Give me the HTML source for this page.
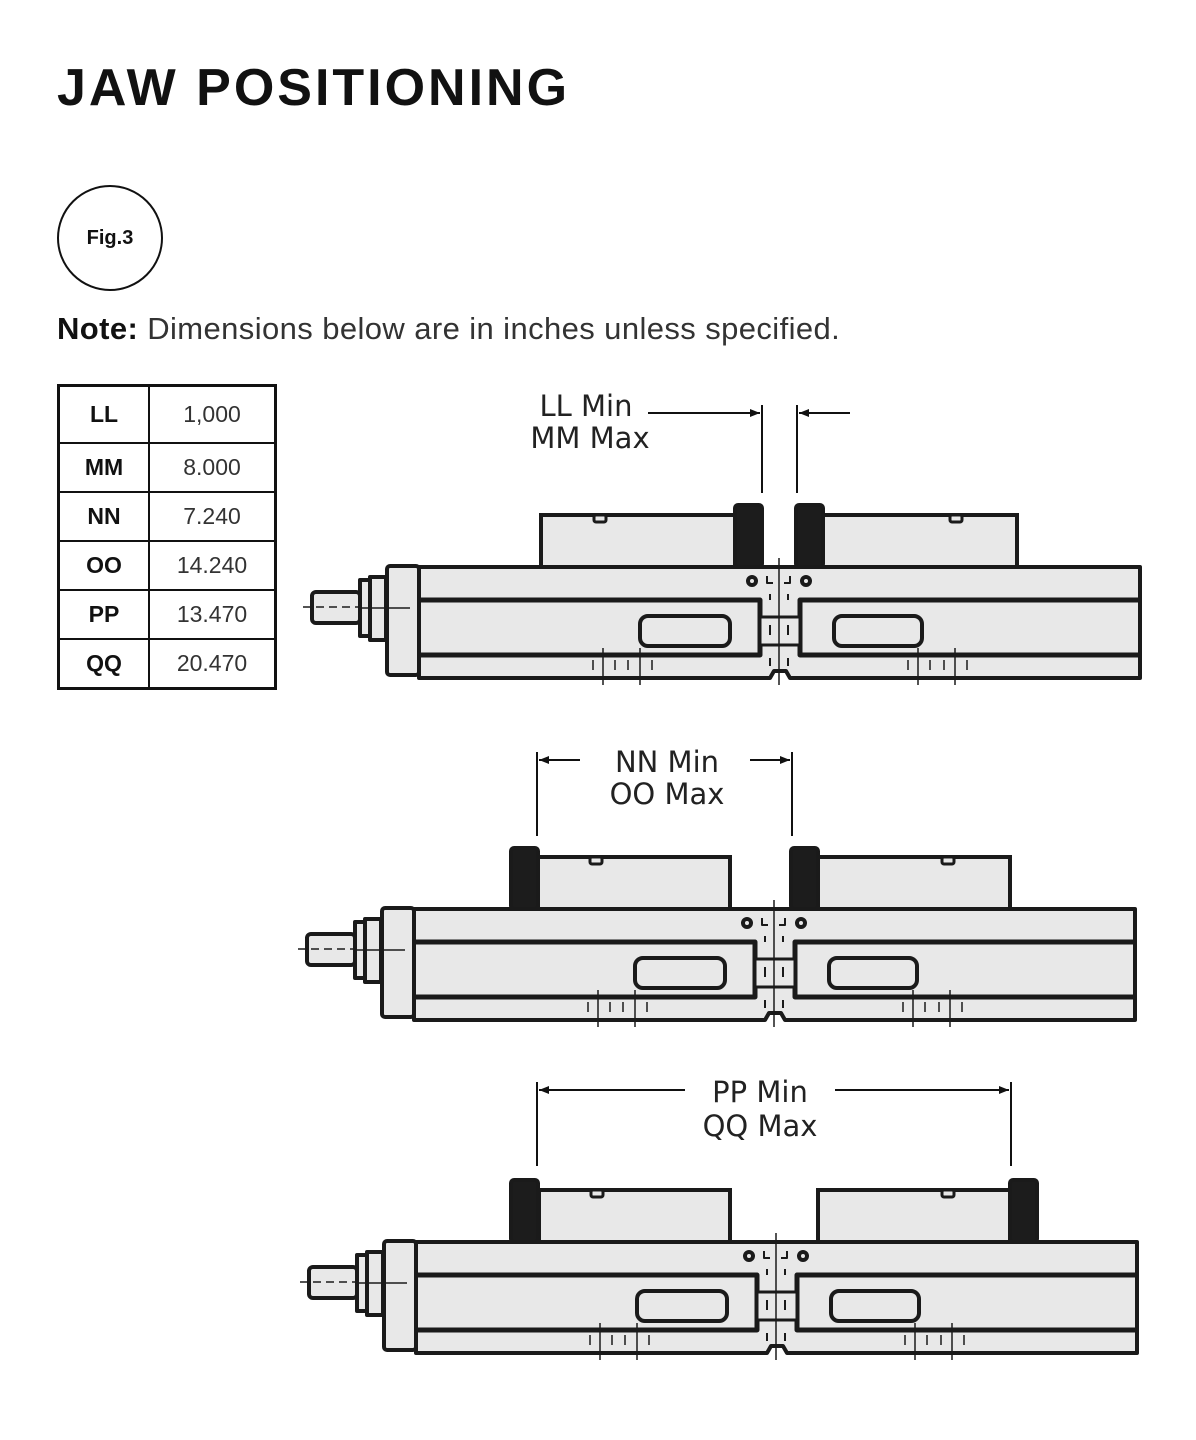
<!DOCTYPE html>
<html><head><meta charset="utf-8"><style>
body{margin:0;width:1196px;height:1440px;background:#fff;position:relative;overflow:hidden;font-family:"Liberation Sans",sans-serif;color:#111}
h1{position:absolute;left:57px;top:58px;margin:0;font-size:52px;font-weight:bold;letter-spacing:3px}
.fig{position:absolute;left:57px;top:185px;width:102px;height:102px;border:2px solid #111;border-radius:50%;text-align:center;line-height:102px;font-size:20px;font-weight:bold}
.note{position:absolute;left:57px;top:311px;font-size:31px;color:#333;letter-spacing:0.4px}
.note b{color:#111}
table{position:absolute;left:57px;top:384px;border-collapse:collapse;border:3px solid #111}
td{border:2px solid #111;height:47px;font-size:23px;text-align:center;padding:0}
td.k{width:88px;font-weight:bold}
td.v{width:124px;color:#333}
</style></head><body>
<h1>JAW POSITIONING</h1>
<div class="fig">Fig.3</div>
<div class="note"><b>Note:</b> Dimensions below are in inches unless specified.</div>
<table>
<tr><td class="k" style="height:55px">LL</td><td class="v">1,000</td></tr>
<tr><td class="k">MM</td><td class="v">8.000</td></tr>
<tr><td class="k">NN</td><td class="v">7.240</td></tr>
<tr><td class="k">OO</td><td class="v">14.240</td></tr>
<tr><td class="k">PP</td><td class="v">13.470</td></tr>
<tr><td class="k">QQ</td><td class="v">20.470</td></tr>
</table>
<svg width="1196" height="1440" style="position:absolute;left:0;top:0">
<defs>
<marker id="ar" markerWidth="10" markerHeight="8" refX="10" refY="4" orient="auto" markerUnits="userSpaceOnUse"><path d="M0,0 L10,4 L0,8 z" fill="#111"/></marker>
<g id="base" stroke="#1a1a1a" stroke-width="4" fill="#e8e8e8" stroke-linejoin="round">
<rect x="312" y="592" width="48" height="31" rx="4"/>
<line x1="303" y1="607" x2="360" y2="607" stroke-width="1.5" stroke-dasharray="8,5"/>
<rect x="360" y="580" width="10" height="56"/>
<rect x="370" y="577" width="16" height="63"/>
<rect x="387" y="566" width="32" height="109" rx="3"/>
<line x1="360" y1="608" x2="410" y2="608" stroke-width="1.5"/>
<path d="M419,567 H1140 V678 H790 L786,671 H774 L770,678 H419 Z"/>
<path d="M419,600 H760 V655 H419" fill="none" stroke-width="5"/>
<path d="M1140,600 H800 V655 H1140" fill="none" stroke-width="5"/>
<rect x="760" y="617" width="40" height="28" stroke-width="3"/>
<rect x="640" y="616" width="90" height="30" rx="8" stroke-width="4"/>
<rect x="834" y="616" width="88" height="30" rx="8" stroke-width="4"/>
<circle cx="752" cy="581" r="4" stroke-width="4"/>
<circle cx="806" cy="581" r="4" stroke-width="4"/>
<path d="M767,576 V583 H773 M790,576 V583 H784" fill="none" stroke-width="2"/>
<line x1="779" y1="558" x2="779" y2="685" stroke-width="1.5"/>
<path d="M770,594 V600 M788,594 V600 M770,625 V635 M788,625 V635 M770,658 V666 M788,658 V666" stroke-width="2"/>
<path d="M603,648 V685 M640,648 V685 M593,660 V670 M615,660 V670 M628,660 V670 M652,660 V670" stroke-width="1.5" fill="none"/>
<path d="M918,648 V685 M955,648 V685 M908,660 V670 M930,660 V670 M944,660 V670 M967,660 V670" stroke-width="1.5" fill="none"/>
</g>
</defs>
<g fill="#e8e8e8" stroke="#1a1a1a" stroke-width="4">
<use href="#base"/>
<rect x="541" y="515" width="194" height="52"/>
<rect x="822" y="515" width="195" height="52"/>
<rect x="735" y="505" width="27" height="62" rx="3" fill="#1c1c1c"/>
<rect x="796" y="505" width="27" height="62" rx="3" fill="#1c1c1c"/>
<use href="#base" transform="translate(-5,342)"/>
<rect x="538" y="857" width="192" height="52"/>
<rect x="818" y="857" width="192" height="52"/>
<rect x="511" y="848" width="27" height="61" rx="3" fill="#1c1c1c"/>
<rect x="791" y="848" width="27" height="61" rx="3" fill="#1c1c1c"/>
<use href="#base" transform="translate(-3,675)"/>
<rect x="539" y="1190" width="191" height="52"/>
<rect x="818" y="1190" width="192" height="52"/>
<rect x="511" y="1180" width="27" height="62" rx="3" fill="#1c1c1c"/>
<rect x="1010" y="1180" width="27" height="62" rx="3" fill="#1c1c1c"/>
</g>
<g fill="#e8e8e8" stroke="#1a1a1a" stroke-width="3">
<rect x="594" y="515" width="12" height="7" rx="2"/><rect x="950" y="515" width="12" height="7" rx="2"/>
<rect x="590" y="857" width="12" height="7" rx="2"/><rect x="942" y="857" width="12" height="7" rx="2"/>
<rect x="591" y="1190" width="12" height="7" rx="2"/><rect x="942" y="1190" width="12" height="7" rx="2"/>
</g>
<g stroke="#111" stroke-width="2" fill="none">
<line x1="762" y1="405" x2="762" y2="493"/><line x1="797" y1="405" x2="797" y2="493"/>
<line x1="648" y1="413" x2="760" y2="413" marker-end="url(#ar)"/>
<line x1="850" y1="413" x2="799" y2="413" marker-end="url(#ar)"/>
<line x1="537" y1="752" x2="537" y2="836"/><line x1="792" y1="752" x2="792" y2="836"/>
<line x1="580" y1="760" x2="539" y2="760" marker-end="url(#ar)"/>
<line x1="750" y1="760" x2="790" y2="760" marker-end="url(#ar)"/>
<line x1="537" y1="1082" x2="537" y2="1166"/><line x1="1011" y1="1082" x2="1011" y2="1166"/>
<line x1="685" y1="1090" x2="539" y2="1090" marker-end="url(#ar)"/>
<line x1="835" y1="1090" x2="1009" y2="1090" marker-end="url(#ar)"/>
</g>
<g font-family="DejaVu Sans, sans-serif" font-size="29" fill="#222" text-anchor="middle">
<text x="586" y="416">LL Min</text><text x="590" y="448">MM Max</text>
<text x="667" y="772">NN Min</text><text x="667" y="804">OO Max</text>
<text x="760" y="1102">PP Min</text><text x="760" y="1136">QQ Max</text>
</g>
</svg>
</body></html>
